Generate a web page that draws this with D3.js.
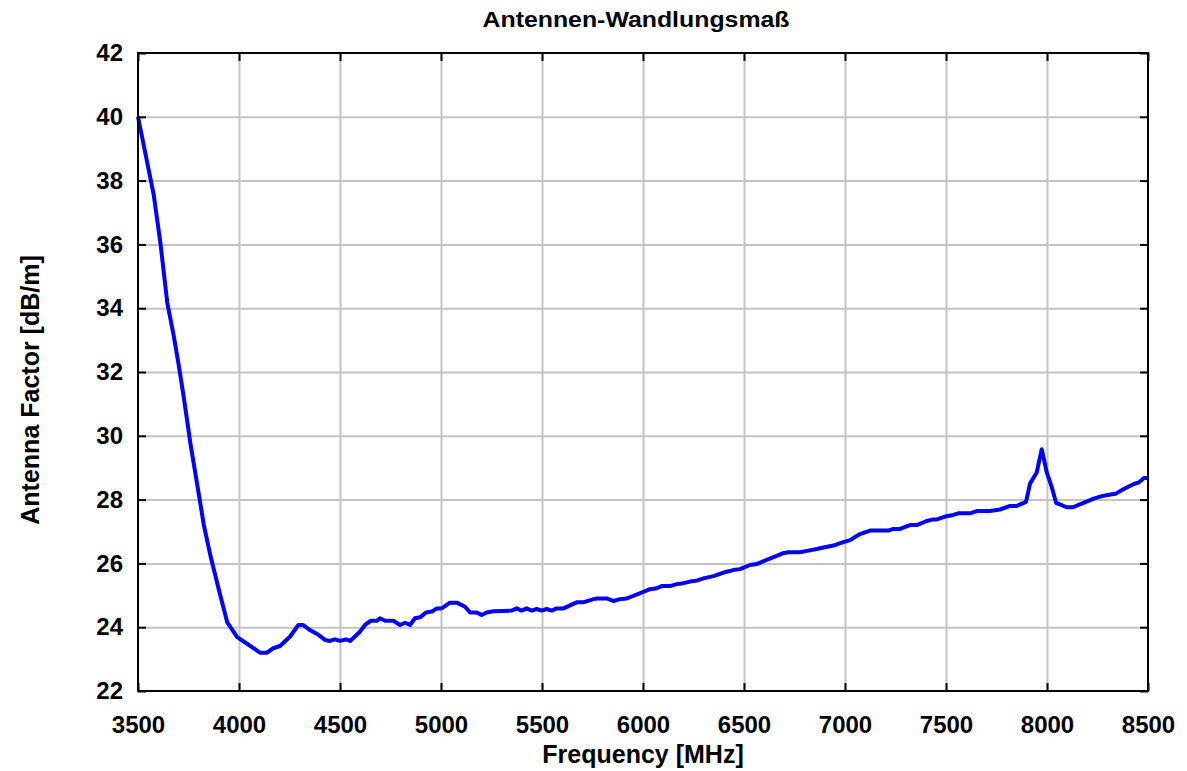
<!doctype html>
<html lang="de">
<head>
<meta charset="utf-8">
<title>Antennen-Wandlungsmaß</title>
<script src="https://cdn.jsdelivr.net/npm/d3@7"></script>
<style>
  body { margin: 0; background: #fff; }
  svg { display: block; font-family: "Liberation Sans", Arial, sans-serif; font-weight: bold; }
  .grid line { stroke: #c4c4c4; stroke-width: 2px; }
  .grid path { display: none; }
  .ax path { display: none; }
  .ax line { stroke: #000; stroke-width: 2px; }
  .ax text { font-size: 24px; fill: #000; }
</style>
</head>
<body>
<svg width="1187" height="771"></svg>
<script>
// frequency in MHz, antenna factor in dB/m
const freq = [3500, 3578, 3611, 3645, 3677, 3702, 3727, 3760, 3793, 3826, 3859, 3900, 3942, 3991,
  4038, 4104, 4137, 4170, 4203, 4252, 4294, 4318, 4351, 4393, 4426, 4450, 4475, 4500, 4530, 4550,
  4599, 4624, 4652, 4682, 4698, 4723, 4764, 4797, 4822, 4847, 4871, 4896, 4926, 4954, 4979, 5003,
  5045, 5078, 5119, 5144, 5177, 5201, 5226, 5259, 5350, 5375, 5399, 5424, 5449, 5474, 5498, 5523,
  5548, 5573, 5606, 5672, 5705, 5755, 5771, 5821, 5854, 5886, 5919, 6002, 6035, 6068, 6093, 6134,
  6167, 6200, 6233, 6266, 6299, 6349, 6381, 6414, 6447, 6480, 6530, 6563, 6612, 6653, 6694, 6719,
  6777, 6818, 6860, 6893, 6943, 6984, 7025, 7074, 7124, 7215, 7239, 7272, 7322, 7355, 7404, 7437,
  7454, 7503, 7536, 7561, 7619, 7652, 7718, 7767, 7817, 7850, 7896, 7916, 7949, 7974, 7999, 8024,
  8045, 8098, 8128, 8181, 8231, 8272, 8314, 8339, 8380, 8430, 8455, 8480, 8500];
const af = [40.0, 37.55, 36.04, 34.17, 33.13, 32.2, 31.19, 29.74, 28.48, 27.2, 26.23, 25.18, 24.15, 23.69,
  23.49, 23.2, 23.2, 23.34, 23.41, 23.7, 24.07, 24.07, 23.91, 23.76, 23.6, 23.57, 23.62, 23.57, 23.62, 23.57,
  23.86, 24.07, 24.2, 24.2, 24.28, 24.2, 24.2, 24.07, 24.14, 24.07, 24.28, 24.31, 24.46, 24.49, 24.59, 24.59,
  24.77, 24.77, 24.64, 24.46, 24.46, 24.38, 24.46, 24.5, 24.52, 24.59, 24.52, 24.59, 24.52, 24.57, 24.52, 24.57,
  24.52, 24.59, 24.59, 24.78, 24.78, 24.88, 24.9, 24.9, 24.82, 24.88, 24.9, 25.11, 25.19, 25.22, 25.29, 25.29,
  25.35, 25.38, 25.43, 25.46, 25.53, 25.6, 25.67, 25.74, 25.79, 25.82, 25.95, 25.98, 26.11, 26.21, 26.32, 26.35,
  26.35, 26.4, 26.45, 26.5, 26.56, 26.65, 26.73, 26.92, 27.03, 27.03, 27.08, 27.08, 27.2, 27.2, 27.33, 27.38,
  27.38, 27.48, 27.52, 27.57, 27.57, 27.64, 27.64, 27.69, 27.8, 27.8, 27.93, 28.5, 28.85, 29.58, 28.85, 28.38,
  27.9, 27.76, 27.76, 27.9, 28.03, 28.11, 28.16, 28.18, 28.33, 28.49, 28.54, 28.68, 28.68];
const xTicks = [3500, 4000, 4500, 5000, 5500, 6000, 6500, 7000, 7500, 8000, 8500];
const yTicks = [22, 24, 26, 28, 30, 32, 34, 36, 38, 40, 42];

const svg = d3.select("svg");
const margin = {top: 53, right: 39, bottom: 80, left: 138};
const w = 1187 - margin.left - margin.right;
const h = 771 - margin.top - margin.bottom;
const g = svg.append("g").attr("transform", `translate(${margin.left},${margin.top})`);

const x = d3.scaleLinear().domain([3500, 8500]).range([0, w]);
const y = d3.scaleLinear().domain([22, 42]).range([h, 0]);

// grid
g.append("g").attr("class", "grid")
  .call(d3.axisBottom(x).tickValues(xTicks.slice(1, -1)).tickSize(h).tickFormat(""));
g.append("g").attr("class", "grid")
  .call(d3.axisLeft(y).tickValues(yTicks.slice(1, -1)).tickSize(-w).tickFormat(""));

// curve
g.append("path")
  .datum(freq.map((f, i) => [f, af[i]]))
  .attr("fill", "none")
  .attr("stroke", "#0000ff")
  .attr("stroke-width", 4)
  .attr("stroke-linejoin", "round")
  .attr("d", d3.line().x(d => x(d[0])).y(d => y(d[1])));

// axes with inward ticks
g.append("g").attr("class", "ax").attr("transform", `translate(0,${h})`)
  .call(d3.axisBottom(x).tickValues(xTicks).tickSizeInner(-8).tickSizeOuter(0).tickPadding(25).tickFormat(d3.format("d")));
g.append("g").attr("class", "ax")
  .call(d3.axisTop(x).tickValues(xTicks).tickSizeInner(-8).tickSizeOuter(0).tickFormat(""));
g.append("g").attr("class", "ax")
  .call(d3.axisLeft(y).tickValues(yTicks).tickSizeInner(-8).tickSizeOuter(0).tickPadding(15).tickFormat(d3.format("d")));
g.append("g").attr("class", "ax").attr("transform", `translate(${w},0)`)
  .call(d3.axisRight(y).tickValues(yTicks).tickSizeInner(-8).tickSizeOuter(0).tickFormat(""));

g.append("rect")
  .attr("width", w).attr("height", h)
  .attr("fill", "none").attr("stroke", "#000").attr("stroke-width", 2);

// labels
svg.append("text")
  .attr("x", 636).attr("y", 27)
  .attr("text-anchor", "middle")
  .attr("font-size", 22)
  .attr("textLength", 307).attr("lengthAdjust", "spacingAndGlyphs")
  .text("Antennen-Wandlungsmaß");

svg.append("text")
  .attr("x", margin.left + w / 2).attr("y", 763)
  .attr("text-anchor", "middle")
  .attr("font-size", 25)
  .text("Frequency [MHz]");

svg.append("text")
  .attr("transform", "translate(39,390) rotate(-90)")
  .attr("text-anchor", "middle")
  .attr("font-size", 25)
  .text("Antenna Factor [dB/m]");
</script>
</body>
</html>
